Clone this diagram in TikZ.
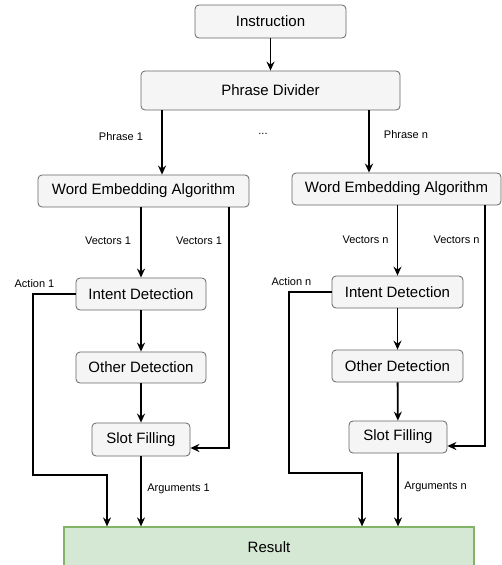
\documentclass[tikz,border=0pt]{standalone}
\usepackage{fontspec}
\setmainfont{Liberation Sans}
\usetikzlibrary{arrows.meta}
\definecolor{boxfill}{HTML}{F5F5F5}
\definecolor{boxline}{HTML}{666666}
\definecolor{resfill}{HTML}{D5E8D4}
\definecolor{resline}{HTML}{82B366}
\begin{document}
\begin{tikzpicture}[x=1pt,y=-1pt,
  box/.style={draw=boxline, fill=boxfill, rounded corners=4pt, line width=0.8pt, inner sep=0pt, font=\fontsize{15}{18}\selectfont},
  resbox/.style={draw=resline, fill=resfill, line width=1.2pt, inner sep=0pt, font=\fontsize{15}{18}\selectfont},
  lbl/.style={font=\fontsize{11}{13}\selectfont, inner sep=0pt},
  arr/.style={line width=1.8pt, -{Stealth[length=9pt,width=8pt,inset=3pt]}}]
\useasboundingbox (0,0) rectangle (502,565);
% boxes
\node[box, minimum width=151pt, minimum height=33pt] (instr) at (270.5,21.5) {Instruction};
\node[box, minimum width=259pt, minimum height=39pt] (pd) at (270.5,90.5) {Phrase Divider};
\node[box, minimum width=211pt, minimum height=32pt] (wea1) at (143.5,191) {Word Embedding Algorithm};
\node[box, minimum width=209pt, minimum height=32pt] (wean) at (396.5,189) {Word Embedding Algorithm};
\node[box, minimum width=130pt, minimum height=32pt] (int1) at (141,294) {Intent Detection};
\node[box, minimum width=131pt, minimum height=32pt] (intn) at (397.5,292) {Intent Detection};
\node[box, minimum width=130pt, minimum height=31pt] (oth1) at (141,367.5) {Other Detection};
\node[box, minimum width=131pt, minimum height=32pt] (othn) at (397.5,366) {Other Detection};
\node[box, minimum width=98pt, minimum height=33pt] (slot1) at (141,439.5) {Slot Filling};
\node[box, minimum width=98pt, minimum height=32pt] (slotn) at (398,437) {Slot Filling};
\node[resbox, minimum width=410pt, minimum height=40pt] (res) at (269,547) {Result};
% helper coordinates
\coordinate (p1) at (162,0);
\coordinate (pn) at (369,0);
\coordinate (v1) at (229,448);
\coordinate (vn) at (485,446);
\coordinate (a1) at (33,475);
\coordinate (a1b) at (107,475);
\coordinate (an) at (289,473);
\coordinate (anb) at (362,473);
% connectors
\draw[arr] (instr) -- (pd);
\draw[arr] (pd.south -| p1) -- (wea1.north -| p1);
\draw[arr] (pd.south -| pn) -- (wean.north -| pn);
\draw[arr] (wea1.south -| int1) -- (int1);
\draw[arr] (int1) -- (oth1);
\draw[arr] (oth1) -- (slot1);
\draw[arr] (slot1) -- (res.north -| slot1);
\draw[arr] (wea1.south -| v1) -- (v1) -- (slot1.east |- v1);
\draw[arr] (int1.west) -| (a1) -- (a1b) -- (res.north -| a1b);
\draw[arr] (wean.south -| intn) -- (intn);
\draw[arr] (intn) -- (othn);
\draw[arr] (othn) -- (slotn);
\draw[arr] (slotn) -- (res.north -| slotn);
\draw[arr] (wean.south -| vn) -- (vn) -- (slotn.east |- vn);
\draw[arr] (intn.west) -| (an) -- (anb) -- (res.north -| anb);
% labels
\node[lbl] (lp1) at (121,137) {Phrase 1};
\node[lbl] (ldots) at (263,134) {...};
\node[lbl] (lpn) at (406,135) {Phrase n};
\node[lbl] (lv1a) at (108,241) {Vectors 1};
\node[lbl] (lv1b) at (199,241) {Vectors 1};
\node[lbl] (la1) at (34.5,284) {Action 1};
\node[lbl] (lg1) at (178.5,489) {Arguments 1};
\node[lbl] (lvna) at (365.5,240) {Vectors n};
\node[lbl] (lvnb) at (456.5,240) {Vectors n};
\node[lbl] (lan) at (291.5,282) {Action n};
\node[lbl] (lgn) at (435.5,487) {Arguments n};
\end{tikzpicture}
\end{document}
